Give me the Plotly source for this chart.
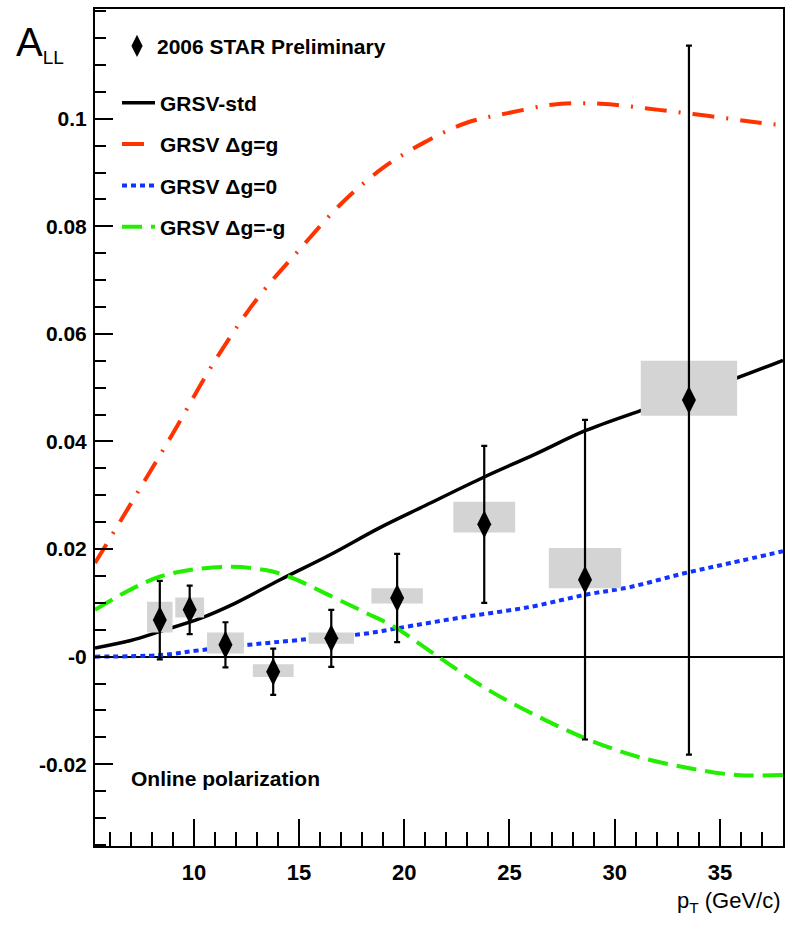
import plotly.graph_objects as go

# ---------------- data ----------------
pt = [8.38, 9.80, 11.50, 13.77, 16.53, 19.66, 23.80, 28.59, 33.53]
all_vals = [0.0068, 0.0087, 0.0022, -0.0028, 0.0034, 0.0109, 0.0246, 0.0143, 0.0477]
stat_err = [0.0073, 0.0045, 0.0042, 0.0043, 0.0053, 0.0082, 0.0146, 0.0297, 0.0659]
sys_up = [0.0034, 0.0023, 0.0023, 0.0014, 0.0011, 0.0018, 0.0042, 0.0059, 0.0073]
sys_down = [0.0023, 0.0014, 0.0016, 0.0010, 0.0010, 0.0010, 0.0015, 0.0016, 0.0029]
box_width = [1.21, 1.37, 1.75, 1.94, 2.16, 2.45, 2.94, 3.44, 4.58]

std_x = [5.3, 7.0, 8.4, 10.3, 12.0, 14.1, 16.5, 18.8, 21.0, 23.8, 26.2, 28.6, 31.2, 33.5, 35.8, 38.0]
std_y = [0.0016, 0.0030, 0.0047, 0.0071, 0.0100, 0.0143, 0.0190, 0.0239, 0.0281, 0.0334,
         0.0376, 0.0420, 0.0457, 0.0488, 0.0518, 0.0551]

max_x = [5.3, 7.0, 9.0, 11.0, 13.0, 15.0, 17.0, 19.0, 21.0, 23.0, 25.0, 27.0, 28.5, 30.0,
         32.2, 34.5, 36.8, 38.0]
max_y = [0.0174, 0.0284, 0.0415, 0.0550, 0.0665, 0.0756, 0.0842, 0.0909, 0.0957, 0.0993,
         0.1011, 0.1026, 0.1029, 0.1026, 0.1016, 0.1005, 0.0993, 0.0988]

zero_x = [5.3, 8.4, 10.3, 12.6, 15.0, 18.2, 19.7, 22.9, 26.05, 28.6, 30.8, 33.3, 35.5, 38.0]
zero_y = [0.0, 0.0003, 0.0012, 0.0022, 0.0031, 0.0043, 0.0053, 0.0074, 0.0093, 0.0115,
          0.0130, 0.0155, 0.0174, 0.0196]

min_x = [5.3, 7.1, 8.4, 9.8, 11.7, 13.4, 14.5, 16.6, 18.2, 19.5, 21.6, 24.0, 26.4, 28.8,
         31.1, 33.5, 35.8, 38.0]
min_y = [0.0087, 0.0127, 0.0149, 0.0161, 0.0167, 0.0161, 0.0149, 0.0111, 0.0081, 0.0056,
         0.0, -0.0062, -0.0112, -0.0155, -0.0186, -0.0207, -0.0220, -0.0220]

y_tickvals = [-0.02, 0.0, 0.02, 0.04, 0.06, 0.08, 0.1]
y_ticktext = ["-0.02", "-0", "0.02", "0.04", "0.06", "0.08", "0.1"]
x_tickvals = [10, 15, 20, 25, 30, 35]
x_ticktext = ["10", "15", "20", "25", "30", "35"]

FONT = "Liberation Sans, Arial, Helvetica, sans-serif"

fig = go.Figure()

# theory curves
fig.add_trace(go.Scatter(x=std_x, y=std_y, mode="lines", name="GRSV-std",
                         line=dict(color="black", width=3.5, shape="spline"),
                         legend="legend2", legendgroup="a", legendrank=1))
fig.add_trace(go.Scatter(x=max_x, y=max_y, mode="lines", name="GRSV Δg=g",
                         line=dict(color="#ff3300", width=4, shape="spline",
                                   dash="22px,12px,2px,12px"),
                         legend="legend2", legendgroup="b", legendrank=2))
fig.add_trace(go.Scatter(x=zero_x, y=zero_y, mode="lines", name="GRSV Δg=0",
                         line=dict(color="#1133ff", width=4, shape="spline", dash="5px,4px"),
                         legend="legend2", legendgroup="c", legendrank=3))
fig.add_trace(go.Scatter(x=min_x, y=min_y, mode="lines", name="GRSV Δg=-g",
                         line=dict(color="#22ee00", width=4, shape="spline", dash="20px,9px"),
                         legend="legend2", legendgroup="d", legendrank=4))

# systematic boxes
bx, by = [], []
for x, y, up, dn, w in zip(pt, all_vals, sys_up, sys_down, box_width):
    x0, x1 = x - w / 2, x + w / 2
    y0, y1 = y - dn, y + up
    bx += [x0, x1, x1, x0, x0, None]
    by += [y0, y0, y1, y1, y0, None]
fig.add_trace(go.Scatter(x=bx, y=by, mode="lines", fill="toself", fillcolor="#d4d4d4",
                         line=dict(width=0, color="#d4d4d4"), showlegend=False,
                         hoverinfo="skip"))

# data points
fig.add_trace(go.Scatter(x=pt, y=all_vals, mode="markers", name="2006 STAR Preliminary",
                         marker=dict(symbol="diamond-tall", size=20, color="black"),
                         error_y=dict(type="data", array=stat_err, color="black",
                                      thickness=2.2, width=3),
                         legend="legend"))

axis_common = dict(showline=True, linecolor="black", linewidth=2, mirror=True,
                   showgrid=False, ticks="inside", tickcolor="black", tickwidth=1.5)

fig.update_xaxes(range=[5.3, 38.0], tickvals=x_tickvals, ticktext=x_ticktext,
                 ticklen=27, zeroline=False,
                 tickfont=dict(family=FONT, size=22, color="black", weight="bold"),
                 minor=dict(dtick=1, ticklen=14, ticks="inside", tickcolor="black",
                            tickwidth=1.5, tick0=5),
                 ticklabelstandoff=6,
                 **axis_common)
fig.update_yaxes(range=[-0.0352, 0.1204], tickvals=y_tickvals, ticktext=y_ticktext,
                 ticklen=18, zeroline=True, zerolinecolor="black", zerolinewidth=1.5,
                 tickfont=dict(family=FONT, size=21, color="black", weight="bold"),
                 minor=dict(dtick=0.005, tick0=0, ticklen=11, ticks="inside",
                            tickcolor="black", tickwidth=1.5),
                 ticklabelstandoff=2,
                 **axis_common)

fig.update_layout(
    width=787, height=935,
    margin=dict(l=95, r=2, t=9, b=89),
    plot_bgcolor="white", paper_bgcolor="white",
    font=dict(family=FONT, color="black"),
    legend=dict(x=0.032, y=0.98, xanchor="left", yanchor="top",
                bgcolor="rgba(0,0,0,0)",
                font=dict(family=FONT, size=21, color="black", weight="bold")),
    legend2=dict(x=0.032, y=0.912, xanchor="left", yanchor="top",
                 bgcolor="rgba(0,0,0,0)", tracegroupgap=11, itemwidth=33,
                 font=dict(family=FONT, size=21, color="black", weight="bold")),
    annotations=[
        dict(text="A<sub><span style='font-size:19px'>LL</span></sub>",
             xref="paper", yref="paper", x=-0.118, y=0.958,
             xanchor="left", yanchor="middle", showarrow=False,
             font=dict(family=FONT, size=40, color="black")),
        dict(text="p<sub>T</sub> (GeV/c)", xref="paper", yref="paper", x=1.0, y=-0.067,
             xanchor="right", yanchor="middle", showarrow=False,
             font=dict(family=FONT, size=22, color="black")),
        dict(text="Online polarization", xref="paper", yref="paper", x=0.05, y=0.081,
             xanchor="left", yanchor="middle", showarrow=False,
             font=dict(family=FONT, size=21, color="black", weight="bold")),
    ],
)

# remove the page's default body margin so the 787x935 figure fills the window exactly
fig.write_html("out.html",
               config={"displayModeBar": False},
               post_script="document.body.style.margin='0';"
                           "document.body.style.overflow='hidden';")
